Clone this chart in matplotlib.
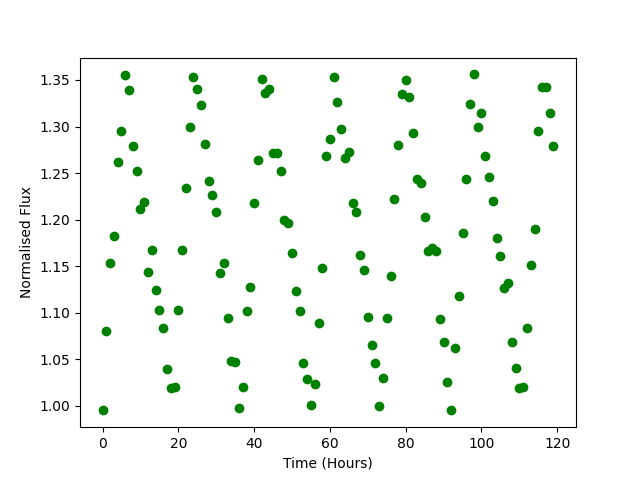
import matplotlib
matplotlib.use("Agg")
import matplotlib.pyplot as plt
import numpy as np

# hourly samples, 0..119
hours = np.arange(120)
flux = [
    0.995, 1.080, 1.153, 1.182, 1.262, 1.295, 1.355, 1.339, 1.279, 1.252,
    1.211, 1.219, 1.144, 1.167, 1.124, 1.103, 1.084, 1.039, 1.019, 1.020,
    1.103, 1.167, 1.234, 1.300, 1.353, 1.340, 1.323, 1.281, 1.241, 1.226,
    1.208, 1.143, 1.153, 1.094, 1.048, 1.047, 0.998, 1.020, 1.102, 1.128,
    1.218, 1.264, 1.351, 1.336, 1.340, 1.272, 1.272, 1.252, 1.200, 1.196,
    1.164, 1.123, 1.102, 1.046, 1.029, 1.001, 1.023, 1.089, 1.148, 1.268,
    1.287, 1.353, 1.326, 1.297, 1.266, 1.273, 1.218, 1.208, 1.162, 1.146,
    1.095, 1.065, 1.046, 1.000, 1.030, 1.094, 1.139, 1.222, 1.280, 1.335,
    1.350, 1.332, 1.293, 1.244, 1.239, 1.203, 1.166, 1.169, 1.166, 1.093,
    1.068, 1.026, 0.995, 1.062, 1.118, 1.186, 1.244, 1.324, 1.356, 1.300,
    1.314, 1.268, 1.246, 1.220, 1.180, 1.161, 1.126, 1.132, 1.069, 1.041,
    1.019, 1.020, 1.084, 1.151, 1.190, 1.295, 1.342, 1.342, 1.314, 1.279,
]

plt.figure(figsize=(6.4, 4.8), dpi=100)
plt.plot(hours, flux, "go")
plt.xlabel("Time (Hours)")
plt.ylabel("Normalised Flux")
plt.savefig("out.png")
